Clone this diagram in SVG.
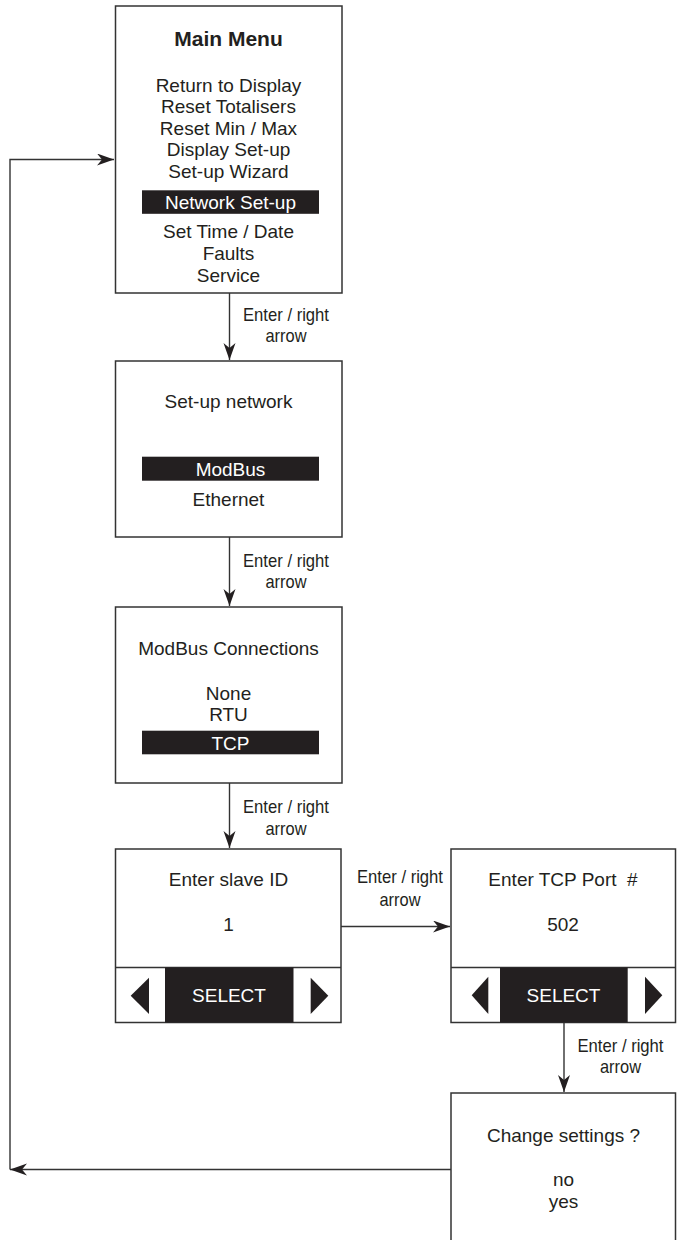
<svg xmlns="http://www.w3.org/2000/svg" width="682" height="1240" viewBox="0 0 682 1240">
<defs>
<style>
.box{fill:#fff;stroke:#333;stroke-width:1.5}
.bar{fill:#231f20}
.t{font-family:"Liberation Sans",Arial,sans-serif;font-size:19px;fill:#231f20;text-anchor:middle}
.b{font-weight:bold;font-size:21px}
.w{fill:#fff}
.lbl{font-family:"Liberation Sans",Arial,sans-serif;font-size:19px;fill:#231f20;text-anchor:middle}
.ln{fill:none;stroke:#333;stroke-width:1.4}
.tri{fill:#231f20}
</style>
<marker id="ah" markerWidth="20" markerHeight="14" refX="17" refY="6" orient="auto" markerUnits="userSpaceOnUse">
<path d="M17,6 L0,0 L5,6 L0,12 Z" fill="#231f20"/>
</marker>
</defs>
<g id="connectors">
<path class="ln" d="M229.5,293 V360" marker-end="url(#ah)"/>
<path class="ln" d="M229.5,537 V606" marker-end="url(#ah)"/>
<path class="ln" d="M229.5,783 V848" marker-end="url(#ah)"/>
<path class="ln" d="M341,926.5 H450" marker-end="url(#ah)"/>
<path class="ln" d="M564,1022 V1092" marker-end="url(#ah)"/>
<path class="ln" d="M451,1169.5 H10" marker-end="url(#ah)"/>
<path class="ln" d="M10,1169.5 V159.5 H114" marker-end="url(#ah)"/>
<text class="lbl"><tspan x="286" y="320.7" textLength="86" lengthAdjust="spacingAndGlyphs">Enter / right</tspan><tspan x="286" y="342" textLength="41" lengthAdjust="spacingAndGlyphs">arrow</tspan></text>
<text class="lbl"><tspan x="286" y="566.7" textLength="86" lengthAdjust="spacingAndGlyphs">Enter / right</tspan><tspan x="286" y="588" textLength="41" lengthAdjust="spacingAndGlyphs">arrow</tspan></text>
<text class="lbl"><tspan x="286" y="812.7" textLength="86" lengthAdjust="spacingAndGlyphs">Enter / right</tspan><tspan x="286" y="835" textLength="41" lengthAdjust="spacingAndGlyphs">arrow</tspan></text>
<text class="lbl"><tspan x="400" y="883" textLength="86" lengthAdjust="spacingAndGlyphs">Enter / right</tspan><tspan x="400" y="905.5" textLength="41" lengthAdjust="spacingAndGlyphs">arrow</tspan></text>
<text class="lbl"><tspan x="620.5" y="1051.7" textLength="86" lengthAdjust="spacingAndGlyphs">Enter / right</tspan><tspan x="620.5" y="1073" textLength="41" lengthAdjust="spacingAndGlyphs">arrow</tspan></text>
</g>
<g id="main-menu">
<rect class="box" x="115.5" y="6" width="226.5" height="287"/>
<text class="t b" x="228.5" y="45.5">Main Menu</text>
<text class="t" x="228.5" y="91.5">Return to Display</text>
<text class="t" x="228.5" y="113">Reset Totalisers</text>
<text class="t" x="228.5" y="134.5">Reset Min / Max</text>
<text class="t" x="228.5" y="156">Display Set-up</text>
<text class="t" x="228.5" y="177.5">Set-up Wizard</text>
<rect class="bar" x="142" y="190.3" width="177" height="23.5"/>
<text class="t w" x="230.5" y="208.5">Network Set-up</text>
<text class="t" x="228.5" y="238">Set Time / Date</text>
<text class="t" x="228.5" y="259.5">Faults</text>
<text class="t" x="228.5" y="281.5">Service</text>
</g>
<g id="setup-network">
<rect class="box" x="115.5" y="361" width="226.5" height="176"/>
<text class="t" x="228.5" y="407.5">Set-up network</text>
<rect class="bar" x="142" y="456.7" width="177" height="24"/>
<text class="t w" x="230.5" y="475.5">ModBus</text>
<text class="t" x="228.5" y="505.5">Ethernet</text>
</g>
<g id="modbus-connections">
<rect class="box" x="115.5" y="607" width="226.5" height="176"/>
<text class="t" x="228.5" y="654.5">ModBus Connections</text>
<text class="t" x="228.5" y="699.5">None</text>
<text class="t" x="228.5" y="721">RTU</text>
<rect class="bar" x="142" y="730.7" width="177" height="23.6"/>
<text class="t w" x="230.5" y="749.5">TCP</text>
</g>
<g id="slave-id">
<rect class="box" x="115.5" y="849" width="225.5" height="173.5"/>
<line x1="115.5" y1="967.5" x2="341" y2="967.5" stroke="#333" stroke-width="1.5"/>
<rect class="bar" x="165" y="967.5" width="128.5" height="55"/>
<path class="tri" d="M149,977.7 V1014 L130.7,995.8 Z"/>
<path class="tri" d="M310.7,977.7 V1014 L328.3,995.8 Z"/>
<text class="t" x="228.5" y="885.5">Enter slave ID</text>
<text class="t" x="228.5" y="930.5">1</text>
<text class="t w" x="229" y="1002">SELECT</text>
</g>
<g id="tcp-port">
<rect class="box" x="451" y="849" width="224.5" height="173.5"/>
<line x1="451" y1="967.5" x2="675.5" y2="967.5" stroke="#333" stroke-width="1.5"/>
<rect class="bar" x="500" y="967.5" width="127.7" height="55"/>
<path class="tri" d="M488.3,976.7 V1014 L471.7,995.3 Z"/>
<path class="tri" d="M645,976.7 V1014 L662.3,995.3 Z"/>
<text class="t" x="563" y="885.5" style="white-space:pre">Enter TCP Port  #</text>
<text class="t" x="563" y="930.5">502</text>
<text class="t w" x="563.5" y="1002">SELECT</text>
</g>
<g id="change-settings">
<rect class="box" x="451" y="1093" width="224.5" height="160"/>
<text class="t" x="563.5" y="1142">Change settings ?</text>
<text class="t" x="563.5" y="1186">no</text>
<text class="t" x="563.5" y="1207.5">yes</text>
</g>
</svg>
